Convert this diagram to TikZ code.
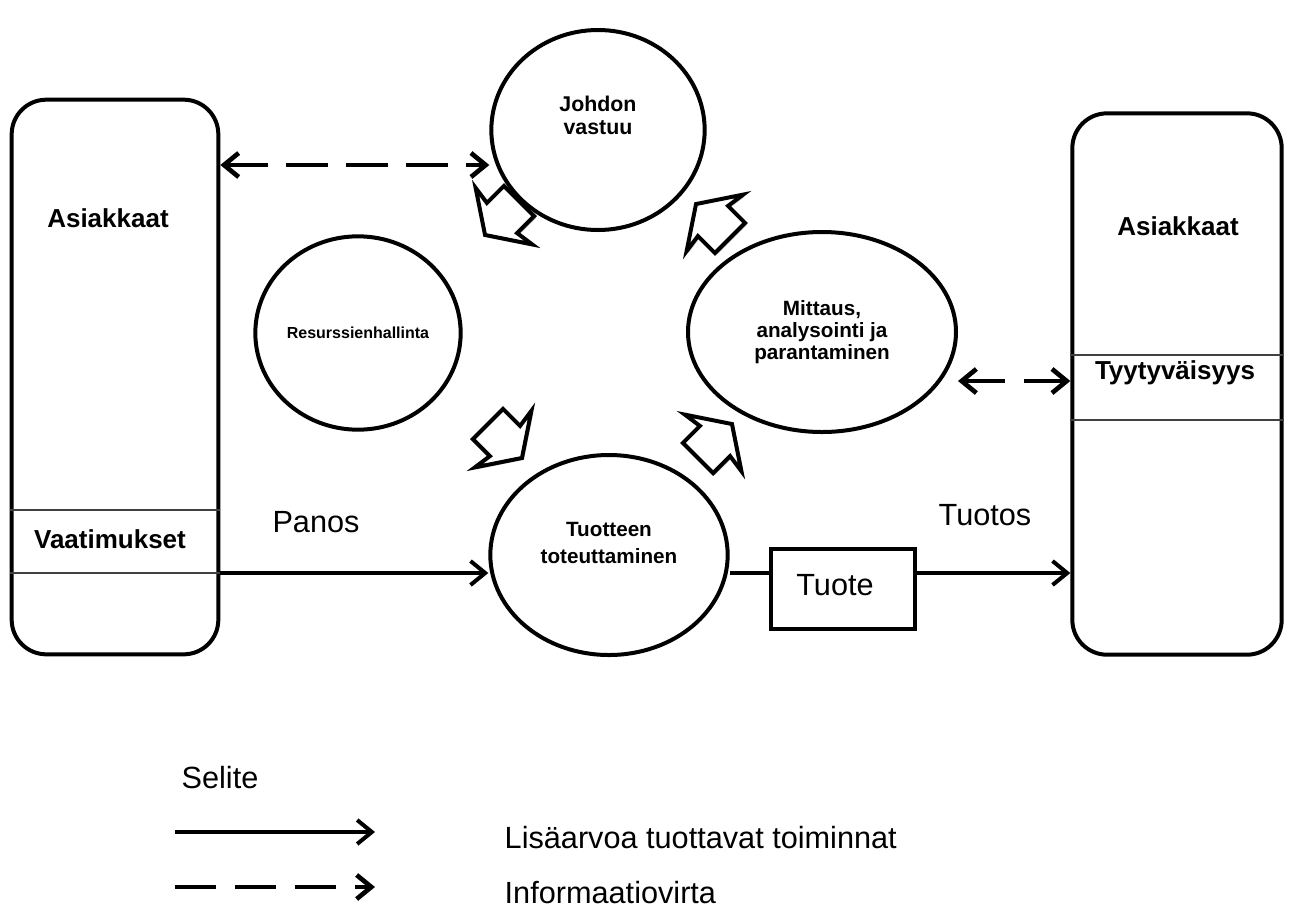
\documentclass[tikz,border=0pt]{standalone}
\usepackage{fontspec}
\setmainfont{Liberation Sans}
\usepackage{tikz}
\usetikzlibrary{positioning}
\usetikzlibrary{arrows.meta}
\usetikzlibrary{shapes.geometric}
\usetikzlibrary{shadows}
\tikzset{x=0.75pt, y=-0.75pt,
    asiakas/.style={draw, line width=3pt, rounded corners=26pt, minimum width=155pt},
    prosessi/.style={draw, ellipse, line width=3pt, inner sep=0pt},
    otsikko/.style={font=\fontsize{19.5}{23}\selectfont\bfseries},
    nimi/.style={align=center, font=\fontsize{15.5}{16.5}\selectfont\bfseries},
    teksti/.style={font=\fontsize{23}{27}\selectfont},
    virta/.style={line width=3pt, -{Straight Barb[length=11pt, width=18pt]}},
    katko/.style={line width=3.5pt, dash pattern=on 31pt off 14pt},
    tieto/.style={katko,
        {Straight Barb[length=11pt, width=18pt]}-{Straight Barb[length=11pt, width=18pt]}},
    kaista/.style={line width=1pt, black!75},
    kiertonuoli/.pic={
        \draw[line width=3pt, line join=miter, fill=white,
            drop shadow={shadow xshift=1.5pt, shadow yshift=-1.5pt, opacity=0.35}]
            (-18pt,-16pt) -- (0pt,-16pt) -- (-2pt,-30pt) -- (18pt,0pt)
            -- (-2pt,30pt) -- (0pt,16pt) -- (-18pt,16pt) -- cycle;
    }
}

\begin{document}
\begin{tikzpicture}
\useasboundingbox (0,0) rectangle (1299,908);

\node[asiakas, minimum height=416pt] (vasen) at (115,377) {};
\node[asiakas, minimum height=406pt, minimum width=157pt] (oikea) at (1177,384) {};
\draw[kaista] (vasen.west |- 0,510) -- (vasen.east |- 0,510);
\draw[kaista] (vasen.west |- 0,573) -- (vasen.east |- 0,573);
\draw[kaista] (oikea.west |- 0,355) -- (oikea.east |- 0,355);
\draw[kaista] (oikea.west |- 0,420) -- (oikea.east |- 0,420);
\node[otsikko] (asiakkaat1) at (108,218) {Asiakkaat};
\node[otsikko] (vaatimukset) at (110,539) {Vaatimukset};
\node[otsikko] (asiakkaat2) at (1178,226) {Asiakkaat};
\node[otsikko] (tyytyvaisyys) at (1175,373) {Tyytyväisyys};

\node[prosessi, minimum width=160pt, minimum height=150pt,
    label={[nimi, font=\fontsize{16}{17}\selectfont\bfseries, yshift=11pt]center:Johdon\\vastuu}] (johdon) at (598,130) {};
\node[prosessi, minimum width=154pt, minimum height=145pt,
    label={[nimi, font=\fontsize{12}{14}\selectfont\bfseries]center:Resurssienhallinta}] (resurssi) at (358,333) {};
\node[prosessi, minimum width=201pt, minimum height=150pt,
    label={[nimi]center:Mittaus,\\analysointi ja\\parantaminen}] (mittaus) at (822,332) {};
\node[prosessi, minimum width=178pt, minimum height=150pt,
    label={[nimi, yshift=9pt, font=\fontsize{15.5}{20}\selectfont\bfseries]center:Tuotteen\\toteuttaminen}] (tuotteen) at (609,555) {};
\node[draw, line width=3pt, minimum width=108pt, minimum height=60pt, teksti,
    text depth=6pt, inner xsep=0pt] (tuote) at (843,589) {Tuote\kern12pt};

\pic[rotate=225] at (502,218) {kiertonuoli};
\pic[rotate=135] at (713,221) {kiertonuoli};
\pic[rotate=-45] at (505,441) {kiertonuoli};
\pic[rotate=45] at (715,441) {kiertonuoli};

\draw[virta] (vasen.east |- 0,573) -- (tuotteen.west |- 0,573);
\draw[line width=3pt] (tuotteen.east |- 0,573) -- (tuote.west |- 0,573);
\draw[virta] (tuote.east |- 0,573) -- (oikea.west |- 0,573);
\draw[tieto] (vasen.east |- 0,165) -- (johdon.west |- 0,165);
\draw[tieto] (mittaus.east |- 0,381) -- (oikea.west |- 0,381);
\node[teksti] (panos) at (316,522) {Panos};
\node[teksti] (tuotos) at (985,515) {Tuotos};

\node[teksti] (selite) at (220,778) {Selite};
\coordinate (v1) at (175,832);
\coordinate (v2) at (375,832);
\coordinate (i1) at (175,887);
\coordinate (i2) at (375,887);
\draw[virta] (v1) -- (v2);
\draw[katko, -{Straight Barb[length=11pt, width=18pt]}] (i1) -- (i2);
\node[teksti, anchor=west] (lisaarvo) at (500,838) {Lisäarvoa tuottavat toiminnat};
\node[teksti, anchor=west] (informaatio) at (500,893) {Informaatiovirta};
\end{tikzpicture}
\end{document}
